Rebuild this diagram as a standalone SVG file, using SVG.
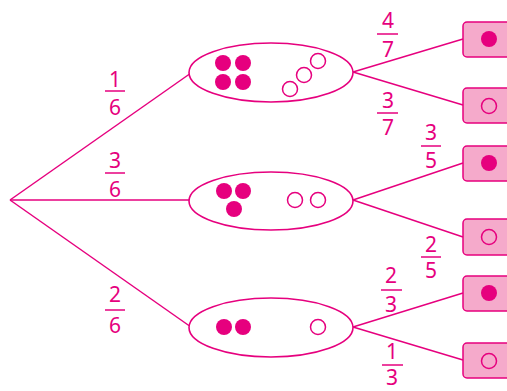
<svg xmlns="http://www.w3.org/2000/svg" width="507" height="391" viewBox="0 0 507 391">
<style>
.ln{stroke:#e6007e;stroke-width:1.5;fill:none}
.el{stroke:#e6007e;stroke-width:1.6;fill:#fff}
.f{fill:#e6007e}
.o{fill:none;stroke:#e6007e;stroke-width:1.5}
.bx{fill:#f5aacb;stroke:#e6007e;stroke-width:1.5}
.t{font-family:"Noto Sans","Open Sans",sans-serif;font-size:21px;fill:#e6007e;text-anchor:middle}
</style>
<rect width="507" height="391" fill="#fff"/>
<g id="connectors">
<line class="ln" x1="10" y1="200" x2="191" y2="73"/>
<line class="ln" x1="10" y1="200" x2="190" y2="200"/>
<line class="ln" x1="10" y1="200" x2="191" y2="327"/>
<line class="ln" x1="353" y1="72" x2="463" y2="39"/>
<line class="ln" x1="353" y1="72" x2="463" y2="105"/>
<line class="ln" x1="353" y1="200" x2="463" y2="163"/>
<line class="ln" x1="353" y1="200" x2="463" y2="237"/>
<line class="ln" x1="353" y1="327" x2="463" y2="293"/>
<line class="ln" x1="353" y1="327" x2="463" y2="360"/>
</g>
<g id="labels">
<text class="t" x="115" y="87">1</text><line class="ln" x1="105" y1="91" x2="125" y2="91"/><text class="t" x="115" y="115">6</text>
<text class="t" x="115" y="168">3</text><line class="ln" x1="105" y1="173" x2="125" y2="173"/><text class="t" x="115" y="197">6</text>
<text class="t" x="115" y="302">2</text><line class="ln" x1="105" y1="310" x2="125" y2="310"/><text class="t" x="115" y="333">6</text>
<text class="t" x="388" y="28">4</text><line class="ln" x1="377" y1="34" x2="398" y2="34"/><text class="t" x="388" y="57">7</text>
<text class="t" x="388" y="108">3</text><line class="ln" x1="377" y1="113" x2="398" y2="113"/><text class="t" x="388" y="135">7</text>
<text class="t" x="431" y="140">3</text><line class="ln" x1="421" y1="146" x2="441" y2="146"/><text class="t" x="431" y="168">5</text>
<text class="t" x="431" y="252">2</text><line class="ln" x1="421" y1="257" x2="441" y2="257"/><text class="t" x="431" y="278">5</text>
<text class="t" x="391" y="283">2</text><line class="ln" x1="381" y1="290" x2="402" y2="290"/><text class="t" x="391" y="312">3</text>
<text class="t" x="392" y="359">1</text><line class="ln" x1="382" y1="365" x2="403" y2="365"/><text class="t" x="392" y="385">3</text>
</g>
<g id="bag1">
<ellipse class="el" cx="271" cy="72.5" rx="82" ry="29.5"/>
<circle class="f" cx="223" cy="63" r="8"/><circle class="f" cx="243" cy="63" r="8"/>
<circle class="f" cx="223" cy="82" r="8"/><circle class="f" cx="243" cy="82" r="8"/>
<circle class="o" cx="290" cy="89" r="7.5"/><circle class="o" cx="304" cy="75" r="7.5"/><circle class="o" cx="318" cy="61" r="7.5"/>
</g>
<g id="bag2">
<ellipse class="el" cx="271" cy="201" rx="82" ry="29"/>
<circle class="f" cx="224" cy="191" r="8"/><circle class="f" cx="243" cy="191" r="8"/><circle class="f" cx="234" cy="209" r="8"/>
<circle class="o" cx="295" cy="200" r="7.5"/><circle class="o" cx="318" cy="200" r="7.5"/>
</g>
<g id="bag3">
<ellipse class="el" cx="271" cy="327.5" rx="82" ry="29.5"/>
<circle class="f" cx="224" cy="327" r="8"/><circle class="f" cx="243" cy="327" r="8"/>
<circle class="o" cx="318" cy="327" r="7.5"/>
</g>
<g id="out1"><rect class="bx" x="463" y="22" width="60" height="35" rx="4"/><circle class="f" cx="489" cy="39" r="8"/></g>
<g id="out2"><rect class="bx" x="463" y="88" width="60" height="35" rx="4"/><circle class="o" cx="489" cy="106" r="7.5"/></g>
<g id="out3"><rect class="bx" x="463" y="146" width="60" height="35" rx="4"/><circle class="f" cx="489" cy="163" r="8"/></g>
<g id="out4"><rect class="bx" x="463" y="219" width="60" height="36" rx="4"/><circle class="o" cx="489" cy="237" r="7.5"/></g>
<g id="out5"><rect class="bx" x="463" y="276" width="60" height="35" rx="4"/><circle class="f" cx="489" cy="293" r="8"/></g>
<g id="out6"><rect class="bx" x="463" y="343" width="60" height="35" rx="4"/><circle class="o" cx="489" cy="361" r="7.5"/></g>
</svg>
